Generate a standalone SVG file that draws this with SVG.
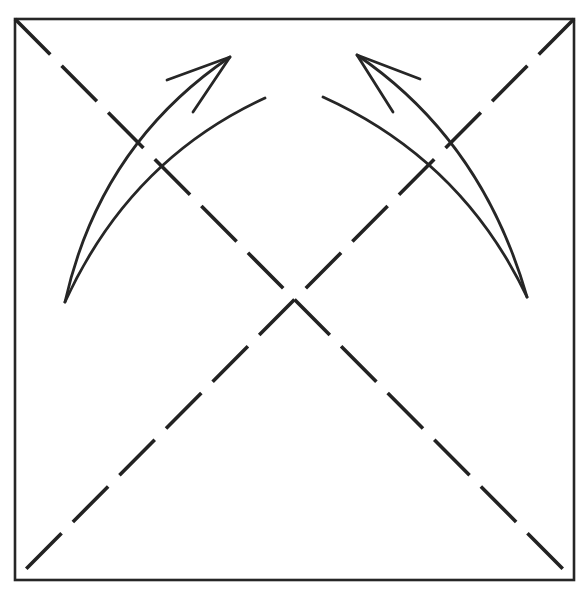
<svg xmlns="http://www.w3.org/2000/svg" width="576" height="592" viewBox="0 0 576 592">
<style>
.edge{fill:none;stroke:#262626;stroke-width:2.6}
.fold{fill:none;stroke:#222;stroke-width:3.6;stroke-dasharray:50 16}
.arr{fill:none;stroke:#262626;stroke-width:2.8;stroke-linecap:round;stroke-linejoin:round}
</style>
<rect width="576" height="592" fill="#fff"/>
<g id="paper">
<rect class="edge" x="15" y="19" width="559" height="561"/>
</g>
<g id="folds">
<line class="fold" x1="15" y1="19" x2="574" y2="580"/>
<line class="fold" x1="574" y1="19" x2="15" y2="580"/>
</g>
<g id="arrow-left">
<path class="arr" d="M65,302 Q100,145 230,57"/>
<path class="arr" d="M65,302 Q130,160 265,98"/>
<path class="arr" d="M167,80 L230,57 L193,112"/>
</g>
<g id="arrow-right">
<path class="arr" d="M527,297 Q482,140 357,55"/>
<path class="arr" d="M527,297 Q462,160 323,97"/>
<path class="arr" d="M420,79 L357,55 L393,112"/>
</g>
</svg>
